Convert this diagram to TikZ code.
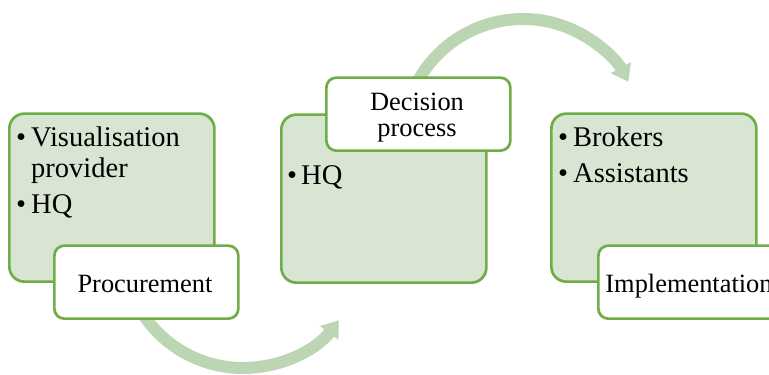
\documentclass[tikz,border=0pt]{standalone}
\usepackage{fontspec}
\setmainfont{LiberationSerif}[Extension=.ttf, UprightFont=*-Regular, BoldFont=*-Bold]
\usetikzlibrary{arrows.meta}
\definecolor{boxfill}{HTML}{D9E5D3}
\definecolor{boxline}{HTML}{70AD47}
\definecolor{arrowc}{HTML}{BCD6B3}
\begin{document}
\begin{tikzpicture}[x=1pt,y=1pt,
 bigbox/.style={draw=boxline, fill=boxfill, line width=2.7pt, rounded corners=15pt, anchor=south west, minimum width=205pt, minimum height=168pt, inner sep=0pt},
 labelbox/.style={draw=boxline, fill=white, line width=2.7pt, rounded corners=10pt, anchor=south west, minimum width=184pt, minimum height=73pt, inner sep=0pt},
 bullettxt/.style={anchor=base west, inner sep=0pt, font=\fontsize{28.5}{32}\selectfont},
 labeltxt/.style={anchor=base, inner sep=0pt, font=\fontsize{26.4}{26}\selectfont},
 flow/.style={draw=arrowc, line width=12pt, -{Triangle[length=16pt,width=22pt]}}]
\useasboundingbox (0,0) rectangle (769,375);
\clip (0,0) rectangle (769,375);
% main boxes
\node[bigbox] (b1) at (8,92) {};
\node[bigbox] (b2) at (280,91) {};
\node[bigbox] (b3) at (550,92) {};
% arc centres
\coordinate (cT) at (523,236);
\coordinate (cB) at (243,127);
% flow arrows
\draw[flow] ([shift={(155:120)}]cT) arc[start angle=155, end angle=28.5, radius=120];
\draw[flow] ([shift={(210:120)}]cB) arc[start angle=210, end angle=323, radius=120];
% label boxes
\node[labelbox] (l1) at (53,55) {};
\node[labelbox] (l2) at (325,223) {};
\node[labelbox] (l3) at (597,55) {};
% bullet texts
\node[bullettxt] (b1a) at (16,228.5) {•};
\node[bullettxt] (b1b) at (31,228.5) {Visualisation};
\node[bullettxt] (b1c) at (31,197) {provider};
\node[bullettxt] (b1d) at (16,161) {•};
\node[bullettxt] (b1e) at (31,161) {HQ};
\node[bullettxt] (b2a) at (287,190) {•};
\node[bullettxt] (b2b) at (301,190) {HQ};
\node[bullettxt] (b3a) at (558,228.5) {•};
\node[bullettxt] (b3b) at (573,228.5) {Brokers};
\node[bullettxt] (b3c) at (558,192) {•};
\node[bullettxt] (b3d) at (573,192) {Assistants};
% label texts
\node[labeltxt] (t1) at (145,82) {Procurement};
\node[labeltxt] (t2a) at (417,264.3) {Decision};
\node[labeltxt] (t2b) at (417,238.3) {process};
\node[labeltxt] (t3) at (689,82) {Implementation};
\end{tikzpicture}
\end{document}
